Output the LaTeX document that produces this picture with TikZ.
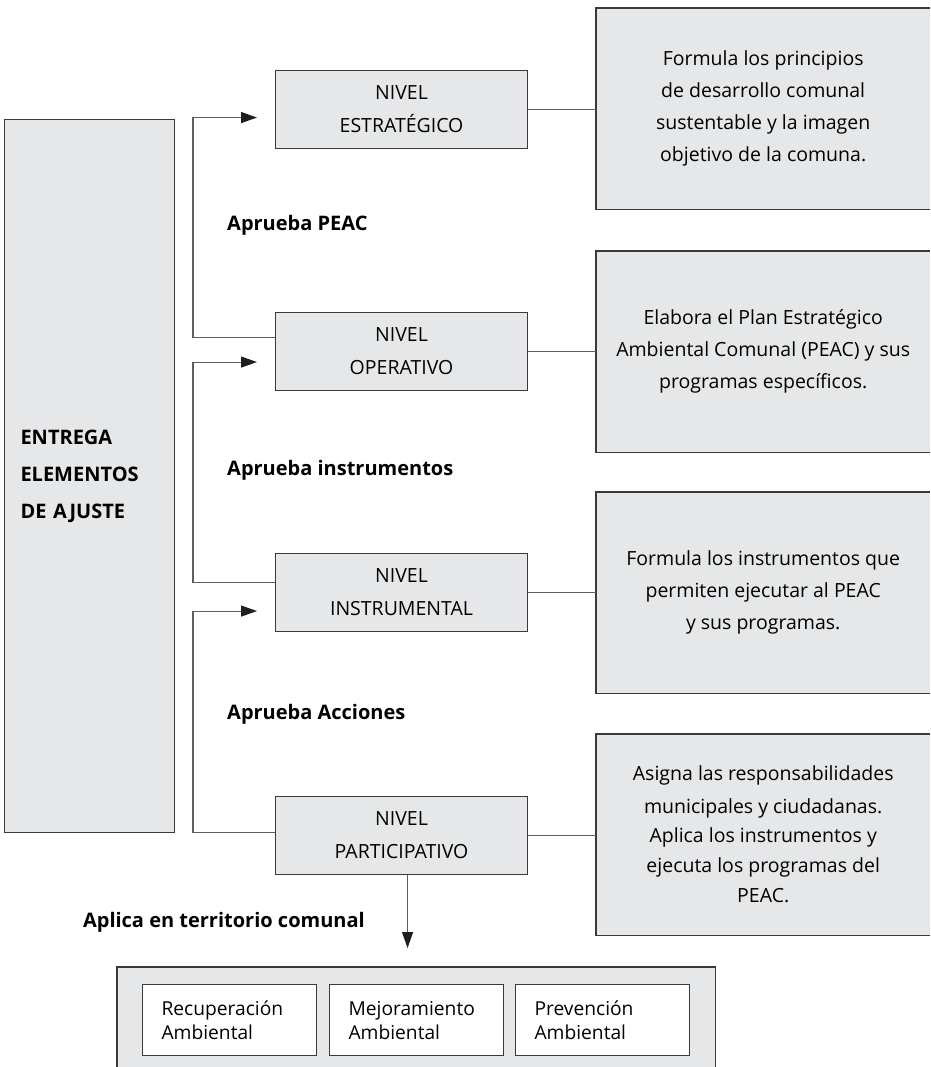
\documentclass[tikz,border=0pt]{standalone}
\usepackage{fontspec}
\setmainfont{Open Sans}
\usetikzlibrary{arrows.meta}
\definecolor{boxfill}{HTML}{E6E7E8}
\definecolor{boxline}{HTML}{3A3A3A}
\definecolor{connline}{HTML}{5E5E5E}
\definecolor{tipcol}{HTML}{1E1E1E}
\begin{document}
\begin{tikzpicture}[x=1pt,y=-1pt,
  greybox/.style={draw=boxline, fill=boxfill, line width=1.1pt},
  nivel/.style={greybox, minimum width=252pt, minimum height=78pt, inner sep=0pt,
    anchor=north west, align=center, font=\fontsize{19.5}{33}\selectfont},
  descbox/.style={fill=boxfill, minimum width=334pt, minimum height=201pt, inner sep=0pt,
    anchor=north west, align=center, font=\fontsize{19.5}{32}\selectfont},
  openside/.style={draw=boxline, line width=1.1pt},
  conn/.style={draw=connline, line width=1.1pt},
  arr/.style={conn, -{Triangle[length=16pt,width=11pt,color=tipcol,fill=tipcol]}},
  lbl/.style={anchor=base west, font=\fontsize{20}{24}\bfseries\selectfont, inner sep=0pt},
  innerbox/.style={draw=boxline, fill=white, line width=1.1pt, minimum width=174pt,
    minimum height=71pt, anchor=north west, align=left, text width=136pt,
    inner xsep=19pt, inner ysep=0pt, font=\fontsize{19.2}{24}\selectfont}
]
\useasboundingbox (0,0) rectangle (930,1067);
\clip (0,0) rectangle (930,1067);

% left box
\node[greybox, anchor=north west, minimum width=170pt, minimum height=713pt,
  text width=138pt, inner xsep=16pt, inner ysep=0pt, align=left,
  font=\fontsize{20}{37}\bfseries\selectfont] (left) at (4,119)
  {ENTREGA\\ELEMENTOS\\DE AJUSTE};

% level boxes
\node[nivel] (n1) at (275,70) {NIVEL\\ESTRATÉGICO};
\node[nivel] (n2) at (275,312) {NIVEL\\OPERATIVO};
\node[nivel] (n3) at (275,553) {NIVEL\\INSTRUMENTAL};
\node[nivel] (n4) at (275,796) {NIVEL\\PARTICIPATIVO};

% description boxes (open to the right)
\node[descbox] (r1) at (596,8) {Formula los principios\\de desarrollo comunal\\sustentable y la imagen\\objetivo de la comuna.};
\node[descbox] (r2) at (596,251) {Elabora el Plan Estratégico\\Ambiental Comunal (PEAC) y sus\\programas específicos.};
\node[descbox] (r3) at (596,492) {Formula los instrumentos que\\permiten ejecutar al PEAC\\y sus programas.};
\node[descbox, font=\fontsize{19.5}{30}\selectfont] (r4) at (596,734) {Asigna las responsabilidades\\[3pt]municipales y ciudadanas.\\[-1pt]Aplica los instrumentos y\\ejecuta los programas del\\PEAC.};
\foreach \r in {r1,r2,r3,r4}{
  \draw[openside] (\r.north east) -- (\r.north west) -- (\r.south west) -- (\r.south east);
}

% bottom container
\node[fill=boxfill, anchor=north west, minimum width=598pt, minimum height=130pt, inner sep=0pt] (bb) at (117,967) {};
\draw[openside] (bb.south west) -- (bb.north west) -- (bb.north east) -- (bb.south east);
\node[innerbox] (b1) at (142,984) {Recuperación\\Ambiental};
\node[innerbox] (b2) at (329,984) {Mejoramiento\\Ambiental};
\node[innerbox] (b3) at (515,984) {Prevención\\Ambiental};

% connectors level -> description
\draw[conn] (n1.east) -- (n1.east -| r1.west);
\draw[conn] (n2.east) -- (n2.east -| r2.west);
\draw[conn] (n3.east) -- (n3.east -| r3.west);
\draw[conn] (n4.east) -- (n4.east -| r4.west);

% feedback connectors
\coordinate (bus) at (193,0);
\coordinate (o2) at ([yshift=14.5pt]n2.west);
\coordinate (i1) at ([yshift=-8pt]n1.west);
\coordinate (o3) at ([yshift=10.5pt]n3.west);
\coordinate (i2) at ([yshift=-10.5pt]n2.west);
\coordinate (o4) at ([yshift=3pt]n4.west);
\coordinate (i3) at ([yshift=-18.5pt]n3.west);
\draw[arr, shorten >=18pt] (o2) -- (o2 -| bus) -- (i1 -| bus) -- (i1);
\draw[arr, shorten >=18pt] (o3) -- (o3 -| bus) -- (i2 -| bus) -- (i2);
\draw[arr, shorten >=18pt] (o4) -- (o4 -| bus) -- (i3 -| bus) -- (i3);

% down arrow
\coordinate (d4) at ([xshift=6pt]n4.south);
\draw[arr, shorten >=19pt] (d4) -- (d4 |- bb.north);

% labels
\node[lbl] (l1) at (227,230) {Aprueba PEAC};
\node[lbl] (l2) at (227,475) {Aprueba instrumentos};
\node[lbl] (l3) at (227,719) {Aprueba Acciones};
\node[lbl, anchor=base east] (l4) at (365,927) {Aplica en territorio comunal};
\end{tikzpicture}
\end{document}
